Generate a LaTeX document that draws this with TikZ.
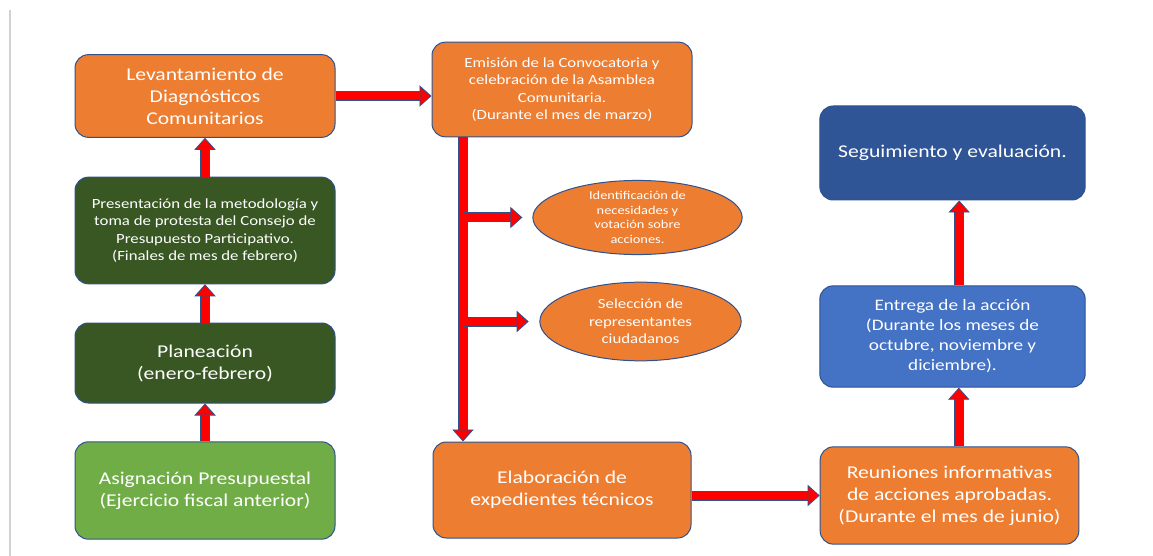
\documentclass[tikz,border=0pt]{standalone}
\usepackage{fontspec}
\setmainfont{Carlito}[FakeStretch=1.2]
\usetikzlibrary{arrows.meta,shapes.geometric}
\definecolor{naranja}{HTML}{ED7D31}
\definecolor{verdeosc}{HTML}{385723}
\definecolor{verdecla}{HTML}{70AD47}
\definecolor{azulosc}{HTML}{2F5597}
\definecolor{azul}{HTML}{4472C4}
\definecolor{borde}{HTML}{2F528F}
\definecolor{rojo}{HTML}{FF0000}

\begin{document}
\begin{tikzpicture}[x=0.75pt,y=-0.75pt,
    box/.style={draw=borde, line width=0.75pt, rounded corners=10pt, text=white, align=center, inner sep=2pt},
    oval/.style={ellipse, draw=borde, line width=0.75pt, fill=naranja, text=white, align=center, inner sep=0pt},
    big/.style={font=\fontsize{13.5pt}{16.5pt}\selectfont},
    small/.style={font=\fontsize{10.5pt}{13pt}\selectfont},
    flow/.style={draw=borde, line width=0.6pt, double=rojo, double distance=6.3pt,
        -{Triangle[color=borde, fill=rojo, line width=0.6pt, width=16pt, length=9pt]}}]

        \useasboundingbox[fill=white] (0,0) rectangle (1153,556);
        \draw[gray!35, line width=1.5pt] (10,10) -- (10,556);

        % columna izquierda
        \node[box, big, fill=naranja, minimum width=195pt, minimum height=62pt] (lev) at (205,96) {Levantamiento de\\Diagnósticos\\Comunitarios};
        \node[box, small, fill=verdeosc, minimum width=195pt, minimum height=80pt] (pres) at (205,230.5) {Presentación de la metodología y\\toma de protesta del Consejo de\\Presupuesto Participativo.\\(Finales de mes de febrero)};
        \node[box, big, fill=verdeosc, minimum width=195pt, minimum height=60pt] (plan) at (205,363) {Planeación\\(enero-febrero)};
        \node[box, big, fill=verdecla, minimum width=195pt, minimum height=73pt] (asig) at (205,490.5) {Asignación Presupuestal\\(Ejercicio fiscal anterior)};

        % columna central
        \node[box, small, fill=naranja, minimum width=195pt, minimum height=71pt] (emis) at (562,89.5) {Emisión de la Convocatoria y\\celebración de la Asamblea\\Comunitaria.\\(Durante el mes de marzo)};
        \node[oval, font=\fontsize{9pt}{11pt}\selectfont, minimum width=157pt, minimum height=49pt] (ident) at (637.5,217.5) {Identificación de\\necesidades y\\votación sobre\\acciones.};
        \node[oval, small, minimum width=151pt, minimum height=59pt] (selec) at (640.5,321.5) {Selección de\\representantes\\ciudadanos};
        \node[box, big, fill=naranja, minimum width=193.5pt, minimum height=72pt] (elab) at (562,490) {Elaboración de\\expedientes técnicos};

        % columna derecha
        \node[box, big, fill=azulosc, minimum width=199pt, minimum height=70.5pt] (segu) at (952.5,153) {Seguimiento y evaluación.};
        \node[box, fill=azul, font=\fontsize{12pt}{15pt}\selectfont, minimum width=199pt, minimum height=76pt] (entr) at (952.5,336.5) {Entrega de la acción\\(Durante los meses de\\octubre, noviembre y\\diciembre).};
        \node[box, big, fill=naranja, minimum width=194pt, minimum height=73pt] (reun) at (949.5,495.5) {Reuniones informativas\\de acciones aprobadas.\\(Durante el mes de junio)};

        \coordinate (tronco) at (463,137);

        \draw[flow] (asig) -- (plan);
        \draw[flow] (plan) -- (pres);
        \draw[flow] (pres) -- (lev);
        \draw[flow] (lev) -- (lev -| emis.west);
        \draw[flow] (tronco) -- (tronco |- elab.north);
        \draw[flow, shorten >=7.5pt] (tronco |- ident) -- (ident);
        \draw[flow, shorten >=8pt] (tronco |- selec) -- (selec);
        \draw[flow] (elab.east |- reun) -- (reun);
        \draw[flow] ([xshift=7pt]reun.north) -- ([xshift=7pt]reun.north |- entr.south);
        \draw[flow] ([xshift=5pt]entr.north) -- ([xshift=5pt]entr.north |- segu.south);

    \end{tikzpicture}
\end{document}
